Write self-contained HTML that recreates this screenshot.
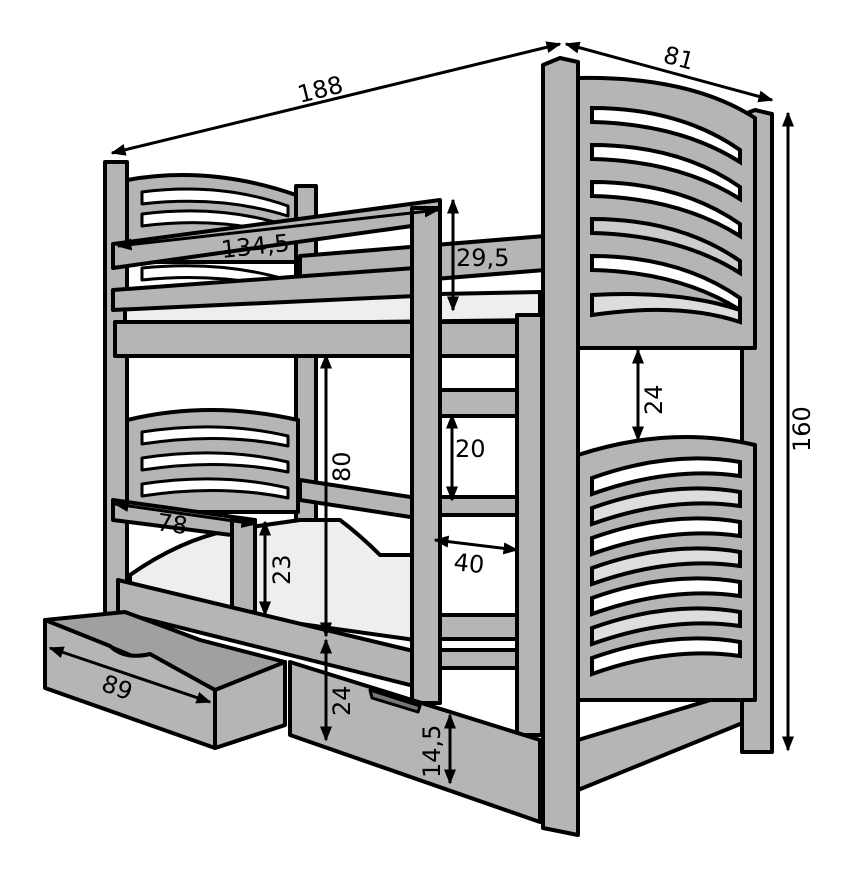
<!DOCTYPE html>
<html><head><meta charset="utf-8"><style>
html,body{margin:0;padding:0;background:#fff}
svg{display:block}
text{font-family:"DejaVu Sans","Liberation Sans",sans-serif;font-size:24px;fill:#000}
</style></head><body>
<svg width="854" height="889" viewBox="0 0 854 889" xmlns="http://www.w3.org/2000/svg">
<defs>
<marker id="a" viewBox="0 0 10 10" refX="9" refY="5" markerWidth="5" markerHeight="5" orient="auto-start-reverse"><path d="M0,1 L10,5 L0,9 z" fill="#000"/></marker>
</defs>
<g stroke="#000" stroke-width="4" stroke-linejoin="round" fill="#b5b5b5">
<rect x="105" y="162" width="22" height="460"/>
<rect x="296" y="186" width="20" height="430"/>
<path d="M127,180 Q210,165 296,195 L296,262 L127,262 z"/>
<path d="M142,192 Q220,182 288,206 L288,216 Q220,195 142,204 z" fill="#fff" stroke-width="3"/>
<path d="M142,214 Q220,204 288,226 L288,236 Q220,216 142,226 z" fill="#fff" stroke-width="3"/>
<path d="M142,268 Q220,260 288,280 L288,290 Q220,272 142,280 z" fill="#fff" stroke-width="3"/>
<path d="M300,256 L545,236 L545,270 L300,290 z"/>
<path d="M125,300 L540,292 L540,320 L125,325 z" fill="#eee"/>
<rect x="115" y="322" width="430" height="34"/>
<path d="M113,290 L415,268 L415,296 L113,310 z"/>
<path d="M113,244 L440,200 L440,222 L113,268 z"/>
<path d="M127,420 Q210,400 298,420 L298,512 L127,512 z"/>
<path d="M142,432 Q220,420 288,436 L288,446 Q220,432 142,444 z" fill="#fff" stroke-width="3"/>
<path d="M142,458 Q220,446 288,462 L288,472 Q220,458 142,470 z" fill="#fff" stroke-width="3"/>
<path d="M142,484 Q220,472 288,488 L288,498 Q220,484 142,496 z" fill="#fff" stroke-width="3"/>
<path d="M300,480 L430,500 L430,520 L300,500 z"/>
<path d="M130,575 Q180,540 230,530 L300,520 L340,520 Q360,535 380,555 L415,555 L415,640 L130,600 z" fill="#eee"/>
<path d="M113,500 L255,520 L255,538 L113,520 z"/>
<rect x="232" y="520" width="23" height="92"/>
<path d="M118,580 L430,655 L430,690 L118,612 z"/>
<rect x="517" y="315" width="25" height="420"/>
<rect x="440" y="390" width="77" height="26"/>
<rect x="440" y="497" width="77" height="18"/>
<rect x="440" y="615" width="77" height="24"/>
<rect x="440" y="650" width="77" height="18"/>
<rect x="412" y="208" width="28" height="495"/>
<path d="M290,662 L540,740 L540,822 L290,735 z"/>
<path d="M370,690 L420,706 L418,712 L372,698 z" fill="#777" stroke-width="3"/>
<path d="M45,620 L125,612 L200,640 L285,662 L285,725 L215,748 L215,690 z" fill="#a0a0a0"/>
<path d="M45,620 L110,646 Q125,660 150,654 L215,690 L215,748 L45,688 z"/>
<path d="M215,690 L285,662 L285,725 L215,748 z"/>
<path d="M578,740 L750,688 L750,720 L578,790 z"/>
<path d="M543,65 L560,58 L578,62 L578,835 L543,828 z"/>
<path d="M742,115 L755,110 L772,114 L772,752 L742,752 z"/>
<path d="M578,78 Q690,76 755,118 L755,348 L578,348 z"/>
<path d="M578,455 Q670,425 755,445 L755,700 L578,700 z"/>
</g>
<g stroke="#000" stroke-width="4" fill="#fff">
<path d="M592,108 Q680,108 740,150 L740,162 Q680,124 592,122 z"/>
<path d="M592,145 Q680,145 740,187 L740,199 Q680,161 592,159 z"/>
<path d="M592,182 Q680,182 740,224 L740,236 Q680,198 592,196 z"/>
<path d="M592,219 Q680,219 740,261 L740,273 Q680,235 592,233 z" fill="#ccc"/>
<path d="M592,256 Q680,256 740,298 L740,310 Q680,272 592,270 z"/>
<path d="M592,295 Q680,290 740,310 L740,322 Q680,302 592,315 z" fill="#ddd"/>
<path d="M592,478 Q670,450 740,462 L740,476 Q670,466 592,494 z"/>
<path d="M592,508 Q670,480 740,492 L740,506 Q670,496 592,524 z" fill="#ddd"/>
<path d="M592,538 Q670,510 740,522 L740,536 Q670,526 592,554 z"/>
<path d="M592,568 Q670,540 740,552 L740,566 Q670,556 592,584 z" fill="#ddd"/>
<path d="M592,598 Q670,570 740,582 L740,596 Q670,586 592,614 z"/>
<path d="M592,628 Q670,600 740,612 L740,626 Q670,616 592,644 z" fill="#ddd"/>
<path d="M592,658 Q670,630 740,642 L740,656 Q670,646 592,674 z"/>
</g>
<g stroke="#000" stroke-width="3" fill="none" marker-start="url(#a)" marker-end="url(#a)">
<line x1="112" y1="153" x2="560" y2="44"/>
<line x1="566" y1="44" x2="772" y2="100"/>
<line x1="788" y1="113" x2="788" y2="750"/>
<line x1="118" y1="246" x2="438" y2="210"/>
<line x1="453" y1="200" x2="453" y2="310"/>
<line x1="638" y1="350" x2="638" y2="440"/>
<line x1="326" y1="355" x2="326" y2="636"/>
<line x1="452" y1="415" x2="452" y2="500"/>
<line x1="115" y1="504" x2="255" y2="524"/>
<line x1="265" y1="522" x2="265" y2="615"/>
<line x1="435" y1="540" x2="517" y2="550"/>
<line x1="50" y1="648" x2="210" y2="702"/>
<line x1="326" y1="640" x2="326" y2="740"/>
<line x1="450" y1="715" x2="450" y2="783"/>
</g>
<text transform="translate(300,103) rotate(-14)">188</text>
<text transform="translate(662,62) rotate(15)">81</text>
<text transform="translate(810,452) rotate(-90)">160</text>
<text transform="translate(222,258) rotate(-6)">134,5</text>
<text x="456" y="266">29,5</text>
<text transform="translate(662,415) rotate(-90)">24</text>
<text transform="translate(350,482) rotate(-90)">80</text>
<text x="455" y="457">20</text>
<text transform="translate(156,530) rotate(8)">78</text>
<text transform="translate(290,585) rotate(-90)">23</text>
<text transform="translate(453,570) rotate(6)">40</text>
<text transform="translate(100,690) rotate(20)">89</text>
<text transform="translate(350,716) rotate(-90)">24</text>
<text transform="translate(440,778) rotate(-90)">14,5</text>
</svg>
</body></html>
